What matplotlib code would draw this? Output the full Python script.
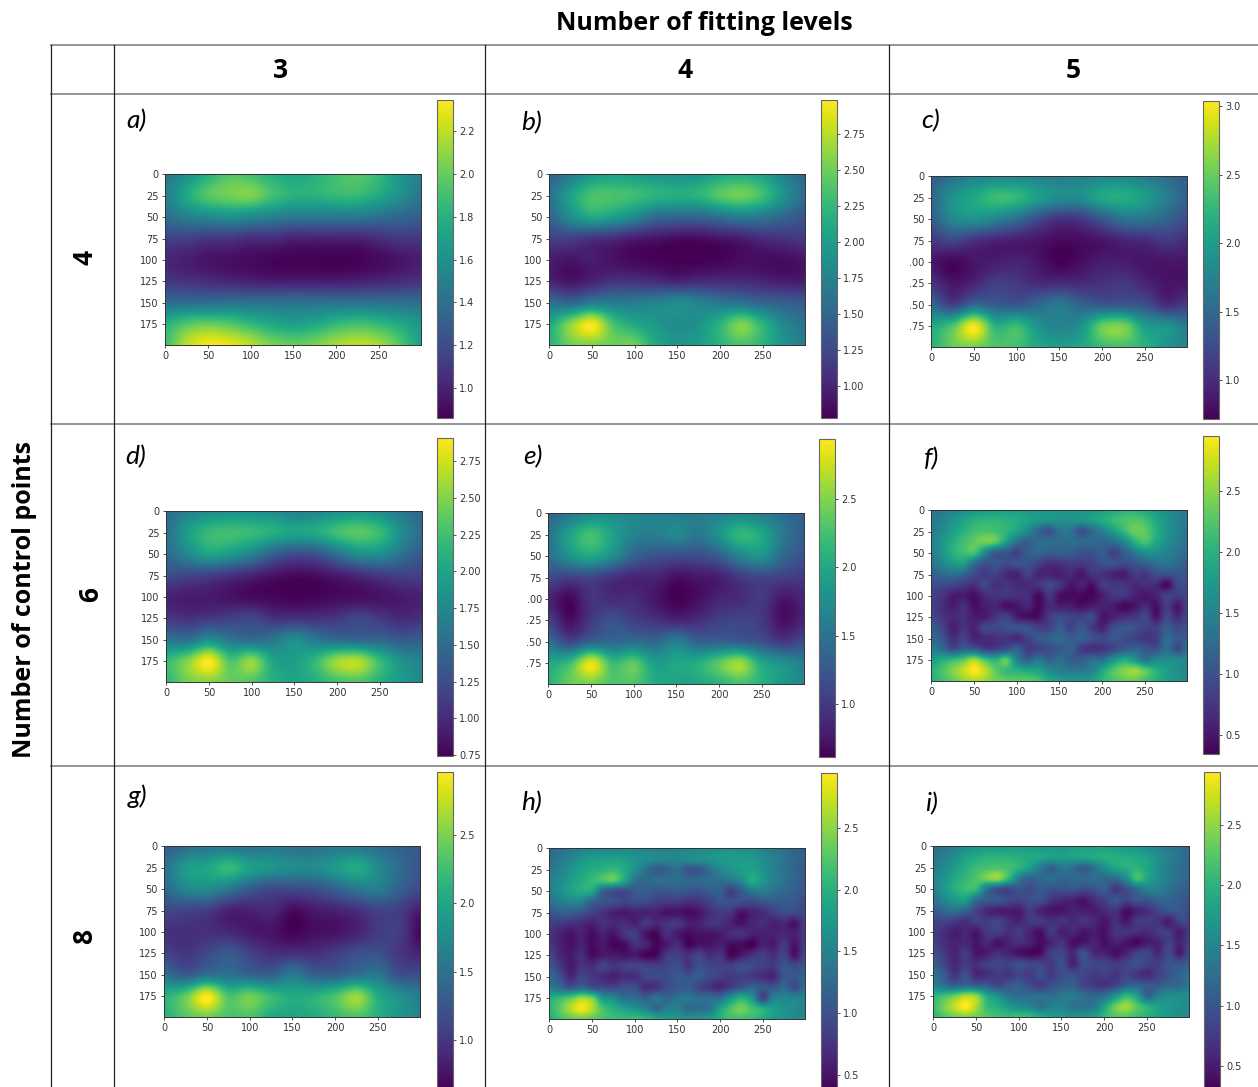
import matplotlib
matplotlib.use("Agg")
import matplotlib.pyplot as plt
import numpy as np

W, H = 1258, 1087

# values, rows y=0,25..200 and columns x=0,25..300
a = [[1.45,1.6,1.8,1.95,1.9,1.8,1.75,1.8,1.9,1.95,1.85,1.65,1.5],
     [1.5,1.75,1.95,2.02,2.05,1.9,1.8,1.8,1.85,1.85,1.75,1.6,1.45],
     [1.4,1.5,1.55,1.6,1.55,1.5,1.45,1.45,1.45,1.45,1.4,1.35,1.3],
     [1.15,1.15,1.1,1.1,1.05,1.05,1.0,1.0,1.0,1.0,1.05,1.1,1.1],
     [1.02,.98,.94,.92,.9,.88,.87,.87,.86,.87,.9,.94,.98],
     [1.1,1.08,1.05,1.02,1.0,.98,.98,.98,.98,1.0,1.02,1.05,1.08],
     [1.4,1.4,1.4,1.42,1.42,1.42,1.42,1.42,1.42,1.42,1.42,1.4,1.4],
     [1.8,1.95,2.0,1.95,1.85,1.75,1.7,1.75,1.85,1.9,1.85,1.75,1.65],
     [1.9,2.2,2.34,2.3,2.2,2.05,2.0,2.05,2.15,2.2,2.15,1.95,1.7]]
b = [[1.5,1.7,1.95,2.05,2.0,1.95,1.9,1.95,2.1,2.15,2.05,1.75,1.5],
     [1.6,2.05,2.35,2.35,2.3,2.2,2.15,2.2,2.4,2.5,2.3,1.9,1.55],
     [1.5,1.85,2.1,2.0,1.8,1.55,1.5,1.5,1.6,1.7,1.65,1.5,1.35],
     [1.2,1.2,1.1,1.05,.95,.9,.85,.85,.9,.95,1.05,1.1,1.15],
     [.95,.9,.95,.88,.82,.8,.78,.78,.8,.85,.85,.85,.9],
     [1.0,.9,1.0,1.1,1.1,1.05,1.0,1.05,1.05,1.05,1.0,.95,.95],
     [1.6,1.5,1.7,1.7,1.7,1.75,1.85,1.75,1.65,1.6,1.5,1.45,1.4],
     [2.1,2.6,2.95,2.35,2.1,1.95,1.85,1.9,2.2,2.55,2.2,1.8,1.6],
     [2.2,2.5,2.55,2.5,2.5,2.1,1.95,2.0,2.2,2.35,2.2,1.9,1.7]]
c = [[1.4,1.6,1.75,1.8,1.8,1.75,1.7,1.75,1.8,1.8,1.7,1.55,1.4],
     [1.5,1.9,2.1,2.3,2.25,2.0,1.85,1.85,2.1,2.15,2.0,1.7,1.4],
     [1.4,1.8,1.9,1.75,1.55,1.25,1.05,1.1,1.35,1.6,1.6,1.45,1.25],
     [1.1,1.2,1.05,.95,.9,.85,.78,.8,.85,.95,1.0,1.1,1.0],
     [.85,.75,.85,.9,.95,.85,.72,.8,.9,.9,.85,.85,.85],
     [1.05,.85,.95,1.15,1.1,1.0,1.0,1.0,1.05,1.1,.95,.85,.85],
     [1.5,1.15,1.5,1.4,1.35,1.5,1.65,1.45,1.35,1.35,1.3,1.0,1.15],
     [2.1,2.4,3.0,2.2,2.3,1.9,1.75,1.9,2.5,2.55,2.0,1.9,1.65],
     [2.2,2.5,2.55,2.4,2.35,2.1,2.0,2.1,2.3,2.35,2.2,1.9,1.75]]
d = [[1.5,1.7,1.8,1.85,1.85,1.8,1.7,1.75,1.85,1.9,1.8,1.6,1.45],
     [1.55,1.95,2.2,2.25,2.2,2.1,2.0,2.05,2.25,2.35,2.2,1.8,1.5],
     [1.5,1.75,2.0,1.9,1.7,1.4,1.25,1.3,1.55,1.8,1.8,1.55,1.35],
     [1.25,1.2,1.15,1.05,.95,.85,.8,.82,.9,1.0,1.1,1.15,1.15],
     [.95,.9,.9,.85,.8,.78,.75,.77,.8,.82,.85,.9,.95],
     [1.1,1.05,1.1,1.15,1.2,1.05,1.05,1.05,1.1,1.2,1.1,1.0,1.05],
     [1.6,1.55,1.8,1.6,1.5,1.6,1.8,1.6,1.5,1.45,1.45,1.35,1.4],
     [2.2,2.5,2.9,2.3,2.55,2.0,1.95,2.2,2.6,2.65,2.2,1.85,1.7],
     [2.15,2.45,2.5,2.4,2.3,2.1,2.0,2.1,2.25,2.3,2.1,1.9,1.75]]
e = [[1.35,1.55,1.7,1.75,1.7,1.65,1.6,1.6,1.65,1.7,1.6,1.45,1.3],
     [1.5,1.95,2.25,1.95,1.65,1.6,1.7,1.55,1.8,2.15,2.0,1.55,1.3],
     [1.45,1.8,2.0,1.75,1.35,1.2,1.15,1.15,1.3,1.65,1.8,1.4,1.2],
     [1.15,1.05,1.1,.95,.85,.85,.7,.75,.8,1.0,1.1,1.05,1.0],
     [.85,.65,.95,.9,.9,.75,.62,.7,.85,.9,1.0,.75,.85],
     [1.05,.7,1.0,1.2,1.05,.95,.85,.9,1.05,1.1,1.0,.7,.85],
     [1.45,1.1,1.35,1.4,1.45,1.4,1.6,1.35,1.35,1.3,1.2,1.0,1.15],
     [2.0,2.2,2.85,2.2,2.35,1.9,2.0,2.05,2.35,2.6,2.0,1.8,1.6],
     [2.1,2.4,2.45,2.3,2.3,2.05,1.95,2.0,2.1,2.25,2.1,1.85,1.7]]
g = [[1.3,1.45,1.55,1.55,1.5,1.55,1.5,1.5,1.55,1.55,1.45,1.35,1.25],
     [1.5,1.9,2.0,2.2,1.95,1.85,1.75,1.75,1.9,2.05,1.75,1.45,1.25],
     [1.4,1.7,1.75,1.55,1.3,1.15,1.15,1.2,1.35,1.55,1.6,1.35,1.15],
     [1.15,1.1,1.05,.85,.85,.9,.7,.8,.85,.95,1.1,1.05,.8],
     [.95,.95,.95,.9,.8,.75,.65,.72,.75,.85,1.05,1.05,.65],
     [1.1,1.0,1.15,1.3,1.1,.95,.95,.95,1.05,1.2,1.2,1.0,.85],
     [1.5,1.3,1.5,1.5,1.4,1.35,1.6,1.35,1.35,1.5,1.55,1.2,1.2],
     [2.1,2.4,2.95,2.3,2.45,2.2,2.05,2.1,2.3,2.6,2.05,1.8,1.6],
     [2.1,2.35,2.45,2.3,2.3,2.05,2.0,2.05,2.2,2.3,2.1,1.85,1.7]]

# finer reading for the blotchy panels, steps of 12.5
f = [[1.35,1.4,1.5,1.6,1.7,1.75,1.8,1.8,1.8,1.75,1.7,1.7,1.7,1.7,1.7,1.75,1.8,1.9,2.0,2.0,1.9,1.75,1.6,1.45,1.35],
     [1.4,1.5,1.7,1.85,2.0,2.05,2.05,2.0,1.95,1.85,1.75,1.7,1.65,1.65,1.7,1.8,1.95,2.1,2.2,2.25,2.15,1.9,1.7,1.5,1.4],
     [1.45,1.6,1.8,2.0,2.15,2.2,2.15,2.05,1.85,1.55,1.2,1.0,1.35,1.35,1.0,1.25,1.5,1.8,2.1,2.35,2.3,2.0,1.7,1.5,1.35],
     [1.5,1.7,1.95,2.15,2.3,2.4,2.3,1.8,1.3,1.15,1.25,1.3,1.25,1.3,1.25,1.25,1.2,1.3,1.55,2.0,2.2,1.9,1.65,1.45,1.3],
     [1.45,1.7,2.0,2.15,2.2,1.6,1.1,1.05,.85,1.1,1.2,1.1,1.15,1.1,1.0,1.0,1.1,.85,1.1,1.4,1.65,1.65,1.5,1.35,1.2],
     [1.35,1.55,1.75,1.8,1.3,1.0,1.05,.95,1.0,1.0,.85,.7,.75,.8,.8,.85,1.0,1.0,.95,1.05,1.15,1.3,1.35,1.25,1.1],
     [1.15,1.25,1.3,1.2,.95,.8,.85,.65,.6,.85,.6,.6,.55,.65,.5,.75,.7,.6,.55,.8,.75,1.0,1.0,1.05,1.0],
     [.95,.95,.9,.8,.7,.9,.7,.75,.65,.65,.75,.9,.75,.5,.6,.45,.8,.75,.75,.65,.7,.65,.4,.9,.95],
     [.85,.75,.55,.55,.45,.65,.75,.75,.7,.7,.4,.75,.45,.42,.4,.38,.55,.75,.75,.6,.5,.6,.85,.8,.9],
     [.85,.7,.55,.7,.45,.55,.6,.45,.5,.6,.4,.65,.55,.55,.45,.55,.6,.55,.4,.5,.65,.45,.8,.5,.9],
     [.95,.75,.65,.7,.55,.55,.75,.85,.55,.45,.45,.8,.95,.85,.85,.9,.5,.6,.7,.75,.9,.5,.9,.65,.95],
     [1.1,.9,.55,.75,.6,.9,.9,1.0,1.0,1.0,.85,.85,1.1,.85,1.05,.8,.6,.95,1.05,1.0,.85,.85,1.1,.9,1.05],
     [1.25,1.05,.7,.85,.6,.65,.7,.75,.65,.85,1.05,1.15,1.25,1.1,1.15,1.0,.9,1.05,.95,.85,.75,.8,1.25,1.05,1.15],
     [1.45,1.3,.95,1.15,1.1,.85,.85,1.0,1.15,.8,.85,.95,1.05,1.15,.8,.7,.75,.9,1.1,1.2,1.05,1.0,1.3,.95,1.35],
     [1.8,1.95,2.1,2.3,2.6,2.2,2.0,2.3,1.5,1.15,1.4,1.15,1.3,1.1,1.1,1.3,1.3,1.7,1.95,1.75,1.35,1.55,1.6,1.6,1.5],
     [2.0,2.2,2.45,2.7,2.95,2.7,2.3,2.1,2.0,1.9,1.85,1.6,1.45,1.4,1.4,1.5,1.9,2.25,2.45,2.55,2.3,2.0,1.8,1.65,1.55],
     [1.95,2.15,2.3,2.5,2.6,2.55,2.4,2.35,2.3,2.3,2.2,1.95,1.8,1.75,1.75,1.85,2.05,2.2,2.3,2.3,2.15,2.0,1.8,1.7,1.6]]
h = [[1.25,1.3,1.4,1.5,1.55,1.55,1.55,1.55,1.55,1.5,1.5,1.5,1.5,1.55,1.55,1.6,1.65,1.7,1.65,1.6,1.5,1.4,1.3,1.2,1.15],
     [1.3,1.4,1.55,1.7,1.8,1.85,1.85,1.8,1.7,1.65,1.6,1.55,1.55,1.6,1.65,1.7,1.75,1.8,1.8,1.75,1.65,1.5,1.35,1.2,1.15],
     [1.4,1.5,1.7,1.85,1.95,2.0,2.1,1.95,1.7,1.35,1.1,1.15,1.3,1.05,1.05,1.3,1.55,1.7,1.8,1.85,1.7,1.5,1.35,1.2,1.1],
     [1.5,1.6,1.8,1.95,2.1,2.2,2.3,1.9,1.35,1.25,1.3,1.3,1.3,1.25,1.25,1.3,1.3,1.4,1.6,1.95,1.75,1.5,1.35,1.2,1.1],
     [1.45,1.65,1.85,1.95,1.9,1.2,1.0,.95,1.1,1.15,1.05,1.05,1.1,1.05,1.0,1.1,1.15,.85,1.1,1.4,1.45,1.35,1.25,1.15,1.05],
     [1.3,1.45,1.55,1.5,1.15,1.05,1.0,.9,.95,.95,.85,.8,.8,.7,.75,.85,1.05,1.0,1.0,.95,1.05,1.1,1.1,1.05,.95],
     [1.05,1.15,1.15,1.05,.9,.75,.6,.55,.6,.6,.6,.5,.5,.45,.5,.7,.8,.75,.5,.6,.7,.85,.95,.95,.9],
     [.85,.8,.75,.7,.6,.75,.65,.7,.6,.8,.65,.75,.8,.6,.6,.75,.75,.6,.5,.65,.7,.6,.65,.5,.85],
     [.75,.6,.5,.6,.45,.6,.5,.75,.85,.5,.4,.7,.55,.45,.5,.5,.55,.7,.75,.6,.6,.6,.65,.6,.8],
     [.8,.6,.5,.6,.45,.55,.4,.45,.7,.65,.4,.55,.7,.4,.5,.5,.6,.45,.45,.37,.6,.55,.8,.5,.85],
     [.95,.65,.55,.7,.45,.55,.55,.5,.55,.4,.42,.8,.85,.75,.9,.7,.75,.42,.55,.75,.85,.7,.9,.5,.95],
     [1.1,.8,.55,.75,.7,.9,.75,.85,.9,.9,.85,.9,1.0,.75,1.0,.9,.9,.85,1.0,.95,.85,.8,1.05,.95,1.05],
     [1.3,1.0,.65,.9,.8,.7,.6,.7,.7,.9,.95,.95,1.1,1.05,1.1,.95,.85,.8,.85,.8,.7,.65,1.05,1.05,1.15],
     [1.45,1.25,1.05,1.2,1.0,.95,.9,1.0,1.0,.7,.75,.95,1.05,1.1,.9,.75,.65,.85,1.05,1.2,1.05,1.05,1.25,.95,1.3],
     [1.95,2.1,2.3,2.55,2.4,1.75,1.6,1.3,1.3,1.15,1.35,1.2,1.35,1.4,1.3,1.3,1.3,1.7,2.0,1.7,.9,1.5,1.55,1.55,1.5],
     [2.05,2.3,2.65,2.9,2.65,2.2,2.0,1.85,1.7,1.55,1.25,1.45,1.5,1.25,1.3,1.35,1.85,2.2,2.4,2.2,2.0,1.8,1.7,1.6,1.5],
     [1.95,2.15,2.3,2.35,2.3,2.2,2.15,2.1,2.15,2.1,1.95,1.8,1.75,1.7,1.7,1.8,2.0,2.15,2.15,2.1,1.95,1.8,1.7,1.6,1.55]]
i = [[1.25,1.3,1.4,1.55,1.65,1.7,1.7,1.75,1.75,1.75,1.7,1.7,1.7,1.75,1.75,1.8,1.8,1.75,1.7,1.65,1.55,1.45,1.35,1.25,1.2],
     [1.3,1.45,1.6,1.8,1.9,2.0,2.0,2.0,1.95,1.9,1.85,1.8,1.75,1.8,1.85,1.9,1.95,1.95,1.95,1.9,1.8,1.6,1.45,1.3,1.2],
     [1.4,1.55,1.75,1.95,2.1,2.15,2.2,2.15,2.0,1.75,1.4,1.1,1.35,1.25,1.05,1.3,1.6,1.85,1.95,2.0,1.85,1.6,1.4,1.25,1.15],
     [1.5,1.65,1.9,2.05,2.2,2.4,2.5,2.05,1.4,1.15,1.2,1.25,1.15,1.2,1.2,1.25,1.2,1.25,1.55,2.15,1.85,1.6,1.4,1.25,1.15],
     [1.45,1.7,1.95,2.1,2.05,1.3,.95,.85,1.0,.9,1.05,.95,.95,1.0,.9,.95,1.1,.75,.95,1.2,1.45,1.45,1.3,1.15,1.05],
     [1.3,1.5,1.7,1.75,1.25,1.05,1.05,.9,.85,.95,.95,.7,.6,.55,.45,.65,.8,1.0,.85,1.0,1.0,1.15,1.15,1.05,.95],
     [1.05,1.2,1.3,1.15,.85,.6,.5,.5,.5,.75,.55,.45,.45,.55,.5,.5,.6,.7,.4,.55,.65,.85,1.0,1.0,.9],
     [.85,.85,.75,.65,.8,.75,.85,.65,.55,.75,.75,.65,.7,.6,.7,.6,.45,.65,.45,.75,.75,.7,.5,.85,.85],
     [.8,.65,.5,.6,.45,.75,.8,.65,.75,.55,.4,.75,.5,.6,.45,.5,.42,.7,.7,.65,.6,.75,.75,.5,.8],
     [.85,.65,.55,.6,.45,.6,.42,.55,.65,.55,.38,.55,.7,.4,.45,.55,.4,.55,.45,.35,.5,.55,.8,.55,.85],
     [.95,.75,.55,.75,.45,.5,.65,.55,.42,.35,.4,.8,.85,.6,.95,.6,.55,.4,.55,.8,.85,.6,.9,.5,.95],
     [1.1,.85,.6,.75,.65,.8,.85,.8,.95,.85,.85,.75,.95,.55,.9,.85,.85,.75,.85,.95,.8,.8,1.0,1.0,1.1],
     [1.3,1.05,.7,.95,.6,.65,.75,.7,.85,.75,.95,.75,.95,.95,.85,.75,.8,.7,.85,.7,.6,.8,1.0,1.15,1.25],
     [1.5,1.25,1.1,1.2,1.1,1.05,.85,1.0,1.1,.9,.75,.95,1.05,1.1,.85,.75,.7,.85,1.1,1.15,1.05,1.05,1.2,1.2,1.4],
     [2.0,2.15,2.35,2.6,2.5,1.9,1.65,1.35,1.25,1.25,1.3,1.25,1.35,1.4,1.25,1.2,1.3,1.65,2.05,1.8,1.15,1.45,1.6,1.6,1.55],
     [2.1,2.4,2.7,2.95,2.6,2.1,1.95,1.75,1.6,1.5,1.3,1.45,1.5,1.3,1.3,1.35,1.85,2.35,2.55,2.25,2.0,1.8,1.7,1.6,1.55],
     [2.0,2.2,2.35,2.4,2.35,2.25,2.15,2.1,2.15,2.1,1.95,1.8,1.75,1.7,1.7,1.8,2.05,2.2,2.2,2.1,1.95,1.8,1.7,1.6,1.55]]

panel_data = [a, b, c, d, e, f, g, h, i]
panel_names = ["a)", "b)", "c)", "d)", "e)", "f)", "g)", "h)", "i)"]
col_labels = ["3", "4", "5"]
row_labels = ["4", "6", "8"]
x_ticks = [0, 50, 100, 150, 200, 250]
y_ticks = [0, 25, 50, 75, 100, 125, 150, 175]
y_labels = ["0", "25", "50", "75", "100", "125", "150", "175"]
y_labels_cut = ["0", "25", "50", "75", ".00", ".25", ".50", ".75"]
clims = [(.86, 2.345), (.778, 2.986), (.715, 3.04),
         (.745, 2.907), (.612, 2.94), (.345, 2.95),
         (.634, 2.96), (.37, 2.945), (.30, 2.94)]
cbar_ticks = [[1.0, 1.2, 1.4, 1.6, 1.8, 2.0, 2.2],
              [1.0, 1.25, 1.5, 1.75, 2.0, 2.25, 2.5, 2.75],
              [1.0, 1.5, 2.0, 2.5, 3.0],
              [.75, 1.0, 1.25, 1.5, 1.75, 2.0, 2.25, 2.5, 2.75],
              [1.0, 1.5, 2.0, 2.5],
              [.5, 1.0, 1.5, 2.0, 2.5],
              [1.0, 1.5, 2.0, 2.5],
              [.5, 1.0, 1.5, 2.0, 2.5],
              [.5, 1.0, 1.5, 2.0, 2.5]]
cbar_fmt = ["%.1f", "%.2f", "%.1f", "%.2f", "%.1f", "%.1f", "%.1f", "%.1f", "%.1f"]

# pixel layout: image left, top / colorbar left, top / letter x, y
img_pos = [(165, 174), (549, 174), (931, 176), (166, 511), (548, 513), (931, 510),
           (164, 846), (549, 848), (933, 846)]
bar_pos = [(437, 100), (821, 100), (1203, 101), (437, 438), (819, 439), (1203, 436),
           (437, 772), (821, 773), (1204, 772)]
txt_pos = [(136, 121), (532, 123), (931, 121), (136, 457), (533, 457), (932, 459),
           (137, 796), (532, 803), (932, 804)]

plt.rcParams['font.family'] = ['DejaVu Sans']
fig = plt.figure(figsize=(W / 100, H / 100), dpi=100)


def box(x, y, w, h):
    return [x / W, 1 - (y + h) / H, w / W, h / H]


def hline(y, x0=51, x1=1258, col="#8c8c8c", lw=1.3):
    fig.add_artist(plt.Line2D([x0 / W, x1 / W], [1 - y / H, 1 - y / H], color=col, lw=lw))


def vline(x, y0=45, y1=1087):
    fig.add_artist(plt.Line2D([x / W, x / W], [1 - y0 / H, 1 - y1 / H], color="#222222", lw=0.9))


def label(x, y, s, size, family="Open Sans", **kw):
    fig.text(x / W, 1 - y / H, s, ha="center", va="center", family=family, color="black", **kw,
             fontsize=size)


for y in [45, 94, 424, 766]:
    hline(y)
for x in [51, 114, 485, 889]:
    vline(x)

label(704, 23, "Number of fitting levels", 18, fontweight="bold")
label(25, 600, "Number of control points", 18, fontweight="bold", rotation=90)
for x, s in zip([280, 685, 1073], col_labels):
    label(x, 71, s, 19, fontweight="bold")
for (x, y), s in zip([(85, 257), (91, 594), (85, 936)], row_labels):
    label(x, y, s, 19, fontweight="bold", rotation=90)

for n, z in enumerate(panel_data):
    z = np.array(z)
    rows, cols = z.shape
    dx = 300 / (cols - 1) / 2
    dy = 200 / (rows - 1) / 2
    ax = fig.add_axes(box(img_pos[n][0], img_pos[n][1], 256, 171))
    im = ax.imshow(z, cmap="viridis", vmin=clims[n][0], vmax=clims[n][1], aspect="auto",
                   interpolation="catrom", extent=(-dx, 300 + dx, 200 + dy, -dy))
    ax.set_xlim(-0.5, 299.5)
    ax.set_ylim(199.5, -0.5)
    ax.set_xticks(x_ticks)
    ax.set_yticks(y_ticks)
    ax.set_yticklabels(y_labels_cut if n in (2, 4) else y_labels)
    ax.tick_params(labelsize=7, length=2.5, width=0.6, pad=2, labelcolor="#333333", color="#333333")
    for sp in ax.spines.values():
        sp.set_linewidth(0.7)
        sp.set_color("#333333")

    cax = fig.add_axes(box(bar_pos[n][0], bar_pos[n][1], 16, 318))
    cb = fig.colorbar(im, cax=cax, format=cbar_fmt[n])
    cb.set_ticks(cbar_ticks[n])
    cb.ax.tick_params(labelsize=7, length=2.5, width=0.6, pad=2, labelcolor="#333333", color="#333333")
    cb.outline.set_edgecolor("#666666")
    cb.outline.set_linewidth(0.8)

    label(txt_pos[n][0], txt_pos[n][1], panel_names[n], 19, family="Lato", fontstyle="italic")

fig.savefig("out.png", dpi=100)
